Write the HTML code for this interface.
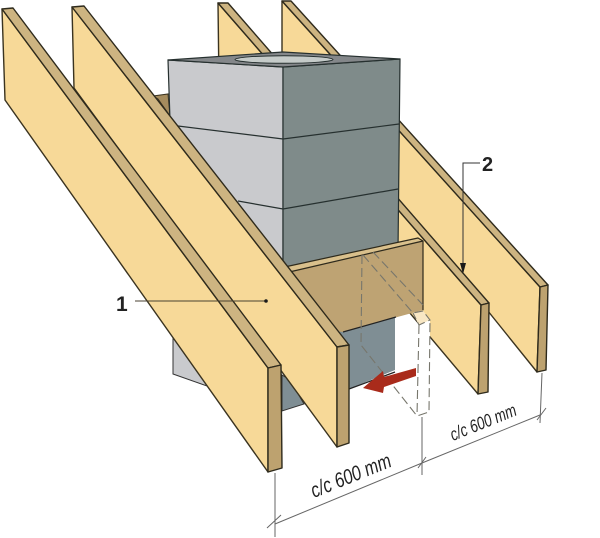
<!DOCTYPE html>
<html>
<head>
<meta charset="utf-8">
<style>
html,body{margin:0;padding:0;background:#fff}
svg{display:block}
.f{fill:#f7d998;stroke:#3a3320;stroke-width:1.4;stroke-linejoin:round}
.s{fill:#cdb481;stroke:#2e2a1c;stroke-width:1.4;stroke-linejoin:round}
.e{fill:#bda26f;stroke:#2e2a1c;stroke-width:1.4;stroke-linejoin:round}
.d{fill:none;stroke:#77766c;stroke-width:1.1;stroke-dasharray:9 4}
.g{fill:none;stroke:#666;stroke-width:1}
text{font-family:"Liberation Sans",sans-serif;fill:#222}
</style>
</head>
<body>
<svg width="600" height="538" viewBox="0 0 600 538" xmlns="http://www.w3.org/2000/svg">
<rect width="600" height="538" fill="#fff"/>

<!-- rear rafter -->
<polygon class="f" points="282,1 540,287 537,372 282,55"/>
<polygon class="s" points="282,1 291,1 548,285 540,287"/>
<polygon class="e" points="540,287 548,285 546,370 537,372"/>

<!-- third rafter -->
<polygon class="f" points="218,3 481,305 478,394 219,86"/>
<polygon class="s" points="218,3 228,3 489,303 481,305"/>
<polygon class="e" points="481,305 489,303 488,392 478,394"/>

<!-- small trimmer behind chimney -->
<polygon points="153,96 168,94 170,116 158,99" fill="#a58c5e" stroke="#3a3320" stroke-width="1"/>

<!-- chimney -->
<polygon points="168,60 283,67 283,265 170,120" fill="#c9cacd" stroke="#26302f" stroke-width="1.2"/>
<polygon points="283,67 400,59 398,252 283,272" fill="#7f8b8a" stroke="#26302f" stroke-width="1.2"/>
<polygon points="168,60 283,52 400,59 283,67" fill="#84878a" stroke="#26302f" stroke-width="1.2"/>
<ellipse cx="284" cy="59.5" rx="49" ry="3.8" fill="#c5cbc9" stroke="#26302f" stroke-width="1"/>
<path d="M178,126 L283,139 L399,124 M238,201 L283,209 L398,189" fill="none" stroke="#26302f" stroke-width="1.2"/>

<!-- chimney below trimmer -->
<polygon points="173,338 173,374 207,386 215,360" fill="#c9cacd" stroke="#333" stroke-width="1"/>
<polygon points="282,375 282,411 304,404 290,380" fill="#7f8e94" stroke="#333" stroke-width="1"/>
<polygon points="325,325 395,315 395,370 349,389 335,360" fill="#7f8e94"/>
<path d="M349,389 L395,372" stroke="#222" stroke-width="1.2" fill="none"/>

<!-- trimmer -->
<polygon points="275,272 423,241 423,310 343,332 325,330" fill="#bea373"/>
<path d="M343,332 L396,317" stroke="#222" stroke-width="1.2" fill="none"/>
<polygon points="280,268 418,238 423,241 285,273" fill="#d9c08c" stroke="#2e2a1c" stroke-width="1.2" stroke-linejoin="round"/>
<path d="M423,241 L423,310" stroke="#2e2a1c" stroke-width="1.2"/>

<!-- ghost header -->
<polygon points="423,311 430,320 430,338 419,340 419,325 413,313" fill="#fff"/>
<polygon points="413,313 423,311 430,320 419,325" fill="#f8e7c4"/>

<!-- dashed -->
<path class="d" d="M362,255 L361,345 L417,416 L429,412 L430,320 M419,325 L417,416"/>
<path class="d" d="M363,255 L413,313 L423,311 L430,320 L419,325 L413,313 M373,252 L423,305"/>

<!-- red arrow -->
<polygon points="416,368 384,377 383,371 363,388 383,393 384,387 416,376" fill="#a92b1b"/>

<!-- second rafter -->
<polygon class="f" points="72,7 337,347 337,447 74,88"/>
<polygon class="s" points="72,7 84,6 349,345 337,347"/>
<polygon class="e" points="337,347 349,345 349,443 337,447"/>

<!-- front rafter -->
<polygon class="f" points="2,9 268,368 268,472 5,100"/>
<polygon class="s" points="2,9 13,8 281,365 268,368"/>
<polygon class="e" points="268,368 281,365 282,468 268,472"/>

<!-- dimensions -->
<path class="g" d="M275,473 L275,537 M275,524 L422,463 L540,415 M422,417 L422,475 M542,373 L540,423"/>
<path class="g" d="M267,528 L281,515 M418,468 L426,457 M537,420 L546,408"/>
<text x="0" y="0" font-size="21" font-style="italic" textLength="85" lengthAdjust="spacingAndGlyphs" transform="translate(314,498) rotate(-22)">c/c 600 mm</text>
<text x="0" y="0" font-size="18" font-style="italic" textLength="70" lengthAdjust="spacingAndGlyphs" transform="translate(453,441) rotate(-22)">c/c 600 mm</text>

<!-- callouts -->
<text x="116" y="311" font-size="21" font-weight="bold">1</text>
<path d="M135,301 L266,301" stroke="#4a4230" stroke-width="1" fill="none"/>
<circle cx="266" cy="301" r="1.8" fill="#1a1a1a"/>
<text x="482" y="171" font-size="20" font-weight="bold">2</text>
<path d="M480,163 L463,163 L463,268" stroke="#333" stroke-width="1" fill="none"/>
<polygon points="460,263 466,263 463,274" fill="#1a1a1a"/>
</svg>
</body>
</html>
